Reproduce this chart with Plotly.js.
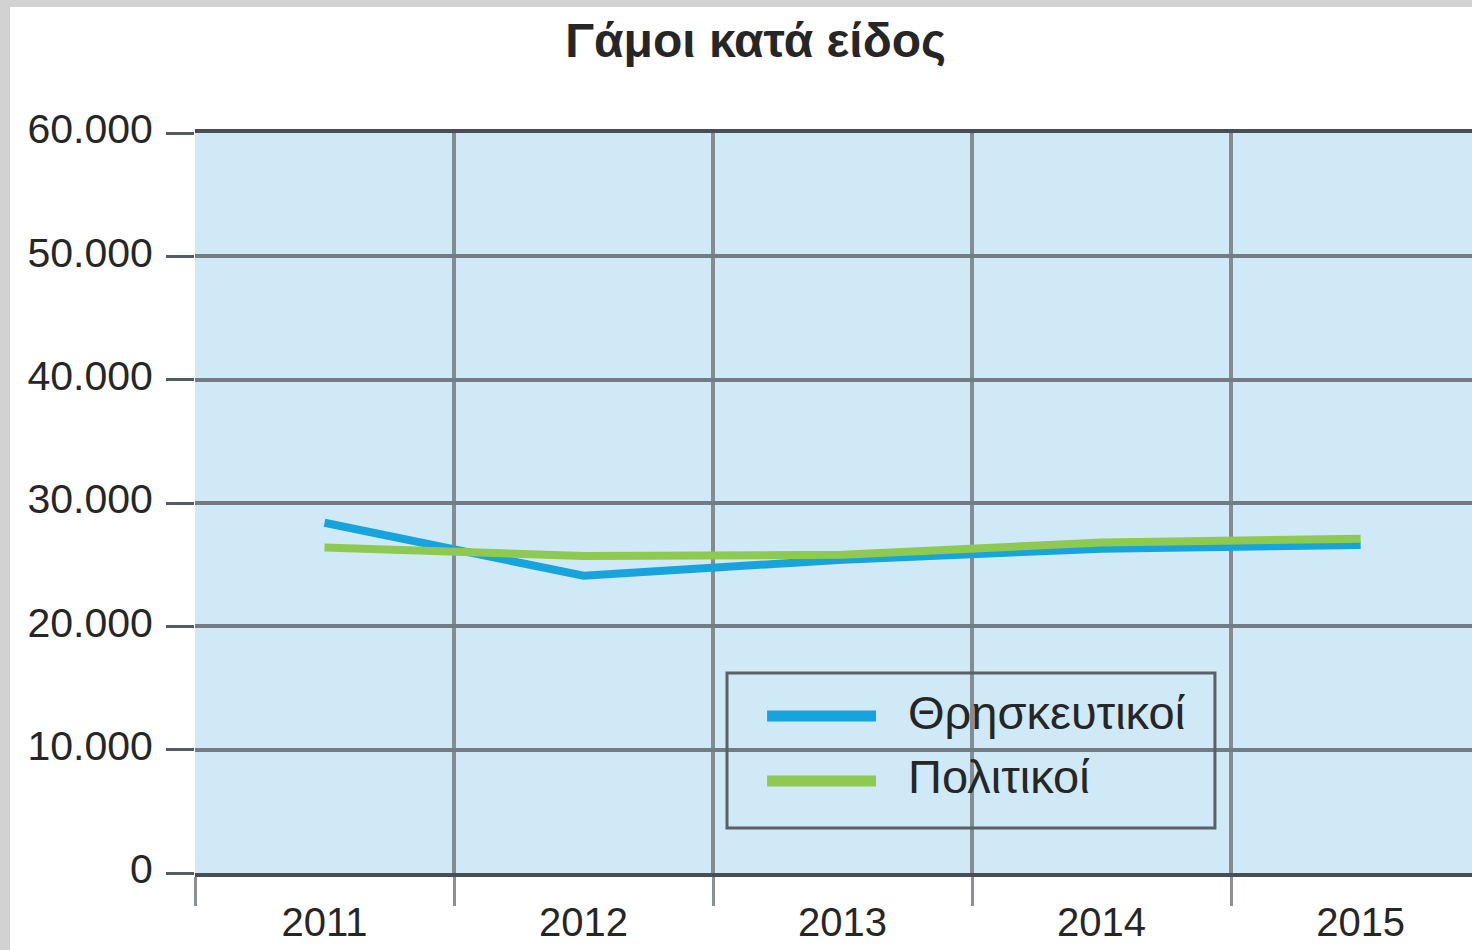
<!DOCTYPE html>
<html>
<head>
<meta charset="utf-8">
<script src="https://cdn.plot.ly/plotly-3.0.1.min.js"></script>
<style>
  html, body { margin: 0; padding: 0; background: #d2d2d2; width: 1472px; height: 950px; overflow: hidden; }
  #chart { position: absolute; left: 10px; top: 7px; width: 1462px; height: 943px; }
</style>
</head>
<body>
<div id="chart"></div>
<script>
const years = ['2011', '2012', '2013', '2014', '2015'];
const religious = [28400, 24100, 25400, 26300, 26600];
const civil = [26400, 25700, 25800, 26800, 27100];
const seriesNames = ['Θρησκευτικοί', 'Πολιτικοί'];
const seriesColors = ['#17a3dc', '#8fca50'];
const chartTitle = 'Γάμοι κατά είδος';

const font = 'Liberation Sans, Arial, sans-serif';
const textColor = '#262626';

const traces = [
  { x: years, y: religious, name: seriesNames[0], type: 'scatter', mode: 'lines',
    line: { color: seriesColors[0], width: 8 } },
  { x: years, y: civil, name: seriesNames[1], type: 'scatter', mode: 'lines',
    line: { color: seriesColors[1], width: 8 } }
];

// custom legend (box, line samples, labels) in plot-area paper coordinates
const legendBox = { x0: 0.4166, x1: 0.7987, y0: 0.0608, y1: 0.2703 };
const legendRows = [0.2122, 0.1243];
const legendTextRows = [0.2175, 0.1300];
const sampleX = [0.448, 0.5333];
const labelX = 0.557;

const shapes = [
  { type: 'rect', xref: 'paper', yref: 'paper', x0: legendBox.x0, x1: legendBox.x1,
    y0: legendBox.y0, y1: legendBox.y1, line: { color: '#596067', width: 3 }, fillcolor: 'rgba(0,0,0,0)', layer: 'above' }
];
const annotations = [];
seriesNames.forEach((n, i) => {
  shapes.push({ type: 'line', xref: 'paper', yref: 'paper', x0: sampleX[0], x1: sampleX[1],
    y0: legendRows[i], y1: legendRows[i], line: { color: seriesColors[i], width: 11 }, layer: 'above' });
  annotations.push({ xref: 'paper', yref: 'paper', x: labelX, y: legendTextRows[i], xanchor: 'left', yanchor: 'middle',
    text: n, showarrow: false, font: { family: font, size: 47, color: textColor } });
});

const layout = {
  width: 1462, height: 943,
  margin: { l: 185, r: 0, t: 126, b: 77 },
  paper_bgcolor: '#ffffff',
  plot_bgcolor: '#d0e9f7',
  separators: ',.',
  font: { family: font, color: textColor, size: 40 },
  title: { text: chartTitle, font: { family: font, size: 48, color: textColor, weight: 'bold' },
           xref: 'container', x: 0.510, xanchor: 'center', yref: 'container', y: 0.965, yanchor: 'middle' },
  xaxis: {
    type: 'category', range: [-0.5, 4.43],
    tickson: 'boundaries', ticks: 'outside', ticklen: 29, tickwidth: 3, tickcolor: '#8a9096',
    showgrid: true, gridcolor: '#838c94', gridwidth: 4,
    showline: true, mirror: true, linecolor: '#484e55', linewidth: 4,
    zeroline: false, ticklabelstandoff: 11,
    tickfont: { family: font, size: 40, color: textColor }
  },
  yaxis: {
    range: [0, 60000], dtick: 10000, tickformat: ',d',
    ticks: 'outside', ticklen: 28, tickwidth: 3, tickcolor: '#555b63',
    showgrid: true, gridcolor: '#737c84', gridwidth: 4,
    zeroline: false, showline: false,
    ticklabelstandoff: 5, ticklabelshift: -4,
    tickfont: { family: font, size: 41, color: textColor }
  },
  showlegend: false,
  shapes: shapes,
  annotations: annotations
};

Plotly.newPlot('chart', traces, layout, { displayModeBar: false, staticPlot: true });
</script>
</body>
</html>
